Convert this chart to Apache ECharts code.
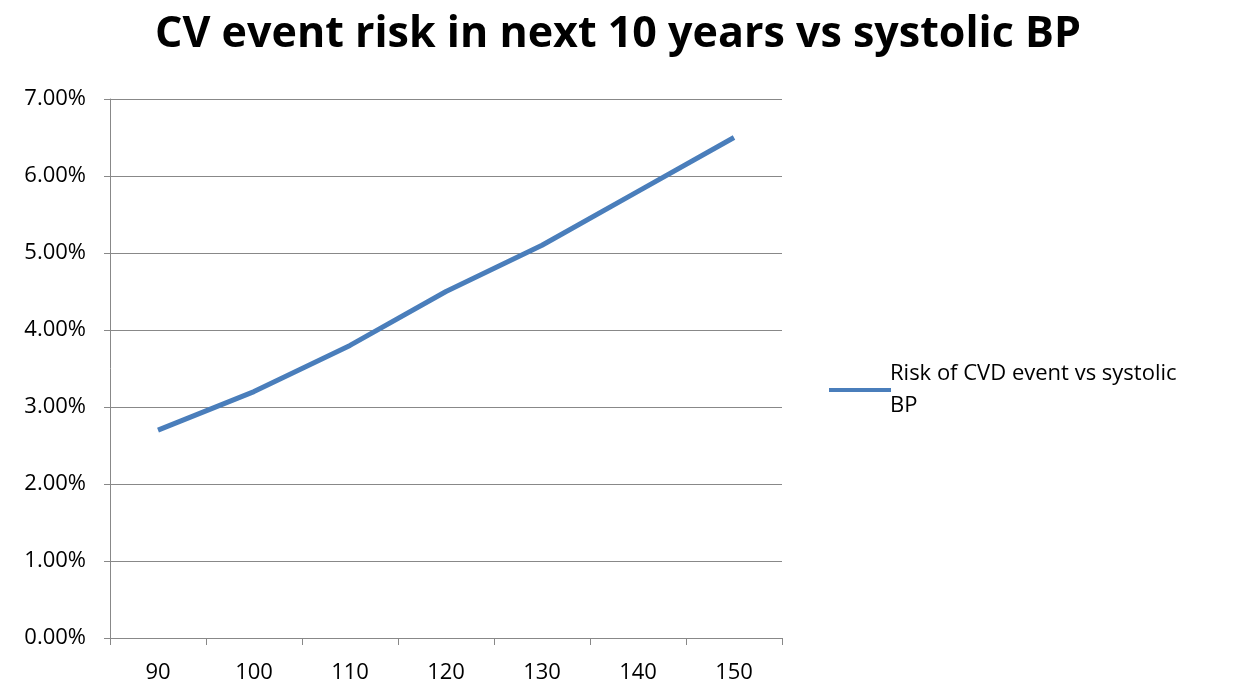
<!DOCTYPE html>
<html>
<head>
<meta charset="utf-8">
<script src="https://cdn.jsdelivr.net/npm/echarts@6/dist/echarts.min.js"></script>
<style>html,body{margin:0;padding:0;background:#fff}#main{width:1236px;height:696px}</style>
</head>
<body>
<div id="main"></div>
<script>
var categories = ['90', '100', '110', '120', '130', '140', '150'];
var riskValues = [2.7, 3.2, 3.8, 4.5, 5.1, 5.8, 6.5];
var seriesName = 'Risk of CVD event vs systolic BP';

var myChart = echarts.init(document.getElementById('main'));
var option = {
    backgroundColor: '#fff',
    title: {
        text: 'CV event risk in next 10 years vs systolic BP',
        left: 'center',
        top: 8,
        textStyle: {fontFamily: 'Open Sans', fontSize: 43, fontWeight: 'bold', color: '#000'}
    },
    legend: {
        left: 824,
        top: 353,
        orient: 'vertical',
        itemWidth: 62,
        itemHeight: 4,
        icon: 'rect',
        formatter: function () { return 'Risk of CVD event vs systolic\nBP'; },
        textStyle: {fontFamily: 'Open Sans', fontSize: 22, color: '#000', lineHeight: 32, padding: [0, 0, 0, -6]},
        data: [seriesName]
    },
    grid: {left: 110, right: 454, top: 99, bottom: 58},
    xAxis: {
        type: 'category',
        data: categories,
        boundaryGap: true,
        axisLine: {lineStyle: {color: '#888'}},
        axisTick: {show: true, length: 7, lineStyle: {color: '#888'}},
        axisLabel: {fontFamily: 'Open Sans', fontSize: 22, color: '#000', margin: 24}
    },
    yAxis: {
        type: 'value',
        min: 0,
        max: 7,
        interval: 1,
        axisLine: {show: true, lineStyle: {color: '#888'}},
        axisTick: {show: true, length: 6, inside: false, lineStyle: {color: '#888'}},
        splitLine: {lineStyle: {color: '#888'}},
        axisLabel: {
            fontFamily: 'Open Sans', fontSize: 22, color: '#000', margin: 24,
            formatter: function (v) { return v.toFixed(2) + '%'; }
        }
    },
    series: [{
        name: seriesName,
        type: 'line',
        data: riskValues,
        showSymbol: false,
        lineStyle: {color: '#4a7ebb', width: 5},
        itemStyle: {color: '#4a7ebb'}
    }]
};
myChart.setOption(option);
</script>
</body>
</html>
